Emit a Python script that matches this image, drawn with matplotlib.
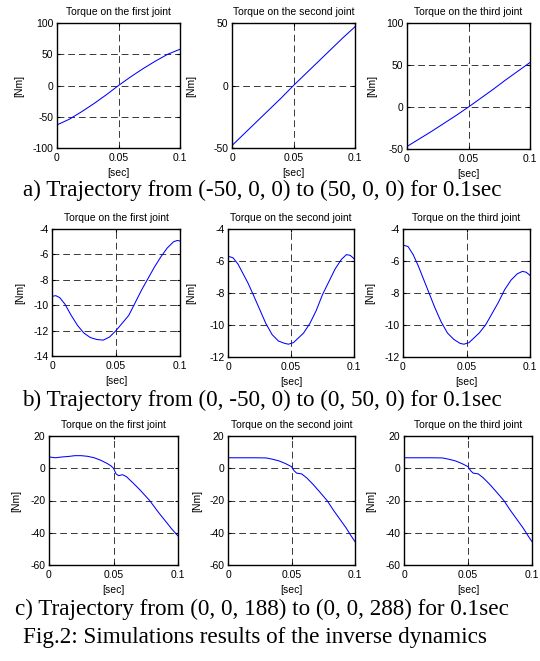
import numpy as np
import matplotlib.pyplot as plt

# time samples (sec), per panel
t_a1 = [0, 0.01, 0.02, 0.03, 0.04, 0.05, 0.06, 0.07, 0.08, 0.09, 0.1]
tq_a1 = [-63, -54, -42, -29, -15, 0, 14, 27, 39, 50, 58]
t_a2 = [0, 0.01, 0.02, 0.03, 0.04, 0.05, 0.06, 0.07, 0.08, 0.09, 0.1]
tq_a2 = [-48, -38.5, -29, -19.5, -10, 0, 9.5, 19, 28.5, 38, 47]
t_a3 = [0, 0.01, 0.02, 0.03, 0.04, 0.05, 0.06, 0.07, 0.08, 0.09, 0.1]
tq_a3 = [-47, -38, -29, -19.5, -10, 0, 10.5, 21, 32, 42.5, 53]

t_b1 = [0, 0.003, 0.006, 0.01, 0.015, 0.02, 0.025, 0.03, 0.035, 0.04, 0.045,
        0.05, 0.055, 0.06, 0.065, 0.07, 0.075, 0.08, 0.085, 0.09, 0.095, 0.098, 0.1]
tq_b1 = [-9.3, -9.25, -9.4, -9.9, -10.8, -11.6, -12.2, -12.55, -12.7, -12.75, -12.5,
         -12.0, -11.4, -10.8, -9.8, -8.8, -7.9, -7.0, -6.2, -5.5, -5.0, -4.9, -4.95]
t_b2 = [0, 0.004, 0.008, 0.012, 0.016, 0.02, 0.025, 0.03, 0.035, 0.04, 0.045,
        0.048, 0.052, 0.056, 0.06, 0.065, 0.07, 0.075, 0.08, 0.085, 0.09, 0.094, 0.097, 0.1]
tq_b2 = [-5.7, -5.8, -6.2, -6.8, -7.4, -8.1, -9.0, -9.9, -10.6, -11.0, -11.15,
         -11.2, -11.1, -10.8, -10.5, -9.9, -9.1, -8.1, -7.3, -6.5, -5.9, -5.6, -5.65, -5.85]
t_b3 = [0, 0.004, 0.008, 0.012, 0.016, 0.02, 0.025, 0.03, 0.035, 0.04, 0.045,
        0.048, 0.052, 0.056, 0.06, 0.065, 0.07, 0.075, 0.08, 0.085, 0.09, 0.094, 0.097, 0.1]
tq_b3 = [-5.0, -5.1, -5.6, -6.3, -7.1, -7.9, -8.9, -9.8, -10.5, -10.9, -11.15,
         -11.2, -11.1, -10.8, -10.5, -10.0, -9.3, -8.6, -7.8, -7.2, -6.8, -6.65, -6.7, -6.9]

t_c1 = [0, 0.005, 0.01, 0.015, 0.02, 0.025, 0.03, 0.035, 0.04, 0.045, 0.048, 0.05,
        0.052, 0.054, 0.057, 0.06, 0.065, 0.07, 0.078, 0.085, 0.09, 0.095, 0.1]
tq_c1 = [7, 6.5, 7, 7.3, 7.8, 7.8, 7.4, 6.5, 5.0, 3.0, 1.5, 0,
         -3.5, -4.6, -4.0, -5.2, -9.0, -13.0, -20.0, -27.5, -32.5, -37.5, -42]
t_c2 = [0, 0.01, 0.02, 0.03, 0.035, 0.04, 0.045, 0.05, 0.052, 0.054, 0.058,
        0.062, 0.067, 0.072, 0.078, 0.083, 0.088, 0.093, 0.097, 0.1]
tq_c2 = [6.5, 6.5, 6.5, 6.4, 5.6, 4.6, 3.0, 1.0, -1.5, -3.0, -3.5,
         -6.0, -10.0, -14.5, -20.0, -26.0, -31.5, -37.0, -42.0, -45.5]
t_c3 = [0, 0.01, 0.02, 0.03, 0.035, 0.04, 0.045, 0.05, 0.052, 0.054, 0.058,
        0.062, 0.067, 0.072, 0.078, 0.083, 0.088, 0.093, 0.097, 0.1]
tq_c3 = [6.5, 6.5, 6.5, 6.4, 5.6, 4.6, 3.0, 1.0, -1.5, -3.0, -3.5,
         -6.0, -10.0, -14.5, -20.0, -26.0, -31.5, -37.0, -42.0, -45.5]

titles = ['Torque on the first joint', 'Torque on the second joint', 'Torque on the third joint']
captions = ['a) Trajectory from (-50, 0, 0) to (50, 0, 0) for 0.1sec',
            'b) Trajectory from (0, -50, 0) to (0, 50, 0) for 0.1sec',
            'c) Trajectory from (0, 0, 188) to (0, 0, 288) for 0.1sec']
fig_caption = 'Fig.2: Simulations results of the inverse dynamics'

panels = [
    [(t_a1, tq_a1, (-100, 100), [-100, -50, 0, 50, 100]),
     (t_a2, tq_a2, (-50, 50), [-50, 0, 50]),
     (t_a3, tq_a3, (-50, 100), [-50, 0, 50, 100])],
    [(t_b1, tq_b1, (-14, -4), [-14, -12, -10, -8, -6, -4]),
     (t_b2, tq_b2, (-12, -4), [-12, -10, -8, -6, -4]),
     (t_b3, tq_b3, (-12, -4), [-12, -10, -8, -6, -4])],
    [(t_c1, tq_c1, (-60, 20), [-60, -40, -20, 0, 20]),
     (t_c2, tq_c2, (-60, 20), [-60, -40, -20, 0, 20]),
     (t_c3, tq_c3, (-60, 20), [-60, -40, -20, 0, 20])],
]

W, H = 540, 661
plt.rcParams['font.family'] = 'Liberation Sans'
plt.rcParams['axes.unicode_minus'] = False
fig = plt.figure(figsize=(W / 100, H / 100), dpi=100)

# axes boxes in pixels: left, top, right, bottom
boxes = [
    [(57, 23, 180, 148), (232, 23, 355, 148), (407, 23, 530, 149)],
    [(52, 229, 180, 356), (228, 229, 354, 357), (403, 229, 530, 357)],
    [(49, 436, 178, 565), (228, 436, 355, 565), (404, 436, 532, 565)],
]
# x centre of the "[Nm]" label, pixels
ylab_x = [[19, 191, 372], [20, 191, 370], [16, 197, 371]]

for r in range(3):
    for c in range(3):
        t, tq, ylim, yt = panels[r][c]
        l, tp, rt, b = boxes[r][c]
        ax = fig.add_axes([l / W, 1 - b / H, (rt - l) / W, (b - tp) / H])
        ax.plot(t, tq, color='#0000ff', linewidth=0.75)
        ax.set_xlim(0, 0.1)
        ax.set_ylim(*ylim)
        ax.set_xticks([0, 0.05, 0.1])
        ax.set_xticklabels(['0', '0.05', '0.1'])
        ax.set_yticks(yt)
        ax.grid(True, color='#383838', linestyle=(0, (7, 4)), linewidth=0.7)
        ax.tick_params(direction='in', length=2.5, labelsize=7.5, top=True, right=True)
        ax.tick_params(axis='x', pad=3.5)
        ax.tick_params(axis='y', pad=2.5)
        for s in ax.spines.values():
            s.set_linewidth(1.0)
        ax.set_title(titles[c], fontsize=7.5, pad=6)
        ax.set_xlabel('[sec]', fontsize=7.5, labelpad=3.5)
        ax.set_ylabel('[Nm]', fontsize=7.5)
        ax.yaxis.set_label_coords((ylab_x[r][c] + 5 - l) / (rt - l), 0.5)

cap_y = [190, 400, 609]
for i, cap in enumerate(captions):
    fig.text(0.485, 1 - cap_y[i] / H, cap, ha='center', va='center',
             family='Liberation Serif', fontsize=16.7)
fig.text(0.472, 1 - 637 / H, fig_caption, ha='center', va='center',
         family='Liberation Serif', fontsize=16.7)

fig.savefig('out.png', dpi=100)
